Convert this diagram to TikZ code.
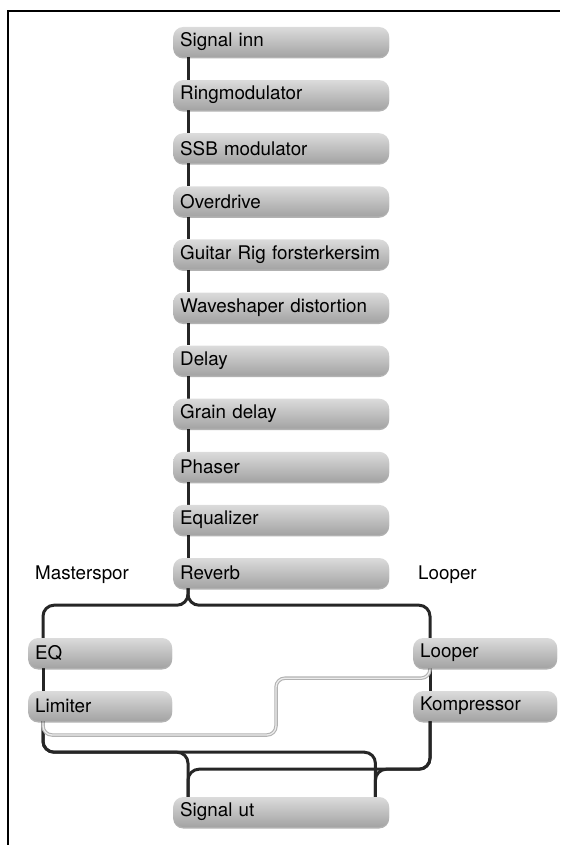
\documentclass[tikz,border=0pt]{standalone}
\usepackage{fontspec}
\setmainfont{TeX Gyre Heros}
\usetikzlibrary{calc,shadows,backgrounds}
\begin{document}
\begin{tikzpicture}[x=1pt,y=-1pt,
  box/.style={draw=none, rounded corners=10pt, top color=gray!28, bottom color=gray!72,
    anchor=west, minimum height=30pt, inner xsep=7pt, inner ysep=0pt, align=left,
    font=\fontsize{18.8}{20}\selectfont,
    drop shadow={shadow xshift=0pt, shadow yshift=-1.5pt, opacity=0.3, fill=black}},
  wide/.style={box, text width=202pt},
  narrow/.style={box, text width=130pt},
  wire/.style={line width=3pt, draw=black!85, rounded corners=11pt},
  gwire/.style={line width=1.1pt, draw=gray!60, double=gray!15, double distance=1.3pt, rounded corners=9pt},
  lbl/.style={anchor=west, inner sep=0pt, font=\fontsize{18.8}{20}\selectfont},
  frame/.style={line width=1.3pt, draw=black}]
\useasboundingbox (0,0) rectangle (560,845);
\draw[frame] (8,845) -- (8,11) -- (560,11);
\foreach \t [count=\i from 0] in {Signal inn, Ringmodulator, SSB modulator, Overdrive,
  Guitar Rig forsterkersim, Waveshaper distortion, Delay, Grain delay, Phaser, Equalizer, Reverb}
  \node[wide] (m\i) at (173,{42+53.1*\i}) {\t};
\node[narrow] (eq) at (28,653) {EQ};
\node[narrow] (lim) at (28,706) {Limiter};
\node[narrow] (loop) at (413,653) {Looper};
\node[narrow] (komp) at (413,706) {Kompressor};
\node[wide] (out) at (173,812) {Signal ut};
\node[lbl] (ms) at (35,575) {Masterspor};
\node[lbl] (lp) at (418,575) {Looper};
\begin{pgfonlayer}{background}
\foreach \i [evaluate=\i as \j using int(\i+1)] in {0,...,9}
  \draw[wire] ($(m\i.south west)+(15,0)$) -- ($(m\j.north west)+(15,0)$);
\draw[wire] ($(m10.south west)+(15,0)$) -- ++(0,17) -| ($(eq.north west)+(15,0)$);
\draw[wire] ($(m10.south west)+(15,0)$) -- ++(0,17) -| ($(loop.north west)+(17,0)$);
\draw[wire] ($(eq.south west)+(15,0)$) -- ($(lim.north west)+(15,0)$);
\draw[wire] ($(loop.south west)+(17,0)$) -- ($(komp.north west)+(17,0)$);
\draw[wire] ($(lim.south west)+(15,0)$) -- ++(0,31) -| ($(out.north west)+(15,0)$);
\draw[wire] ($(lim.south west)+(15,0)$) -- ++(0,31) -| ($(out.north east)+(-14,0)$);
\draw[wire] ($(komp.south west)+(17,0)$) -- ++(0,48) -| ($(out.north west)+(15,0)$);
\draw[wire] ($(komp.south west)+(17,0)$) -- ++(0,48) -| ($(out.north east)+(-14,0)$);
\draw[gwire] ($(loop.south west)+(17,0)$) -- ++(0,10) -| (276,735) -| ($(lim.south west)+(15,0)$);
\end{pgfonlayer}
\end{tikzpicture}
\end{document}
